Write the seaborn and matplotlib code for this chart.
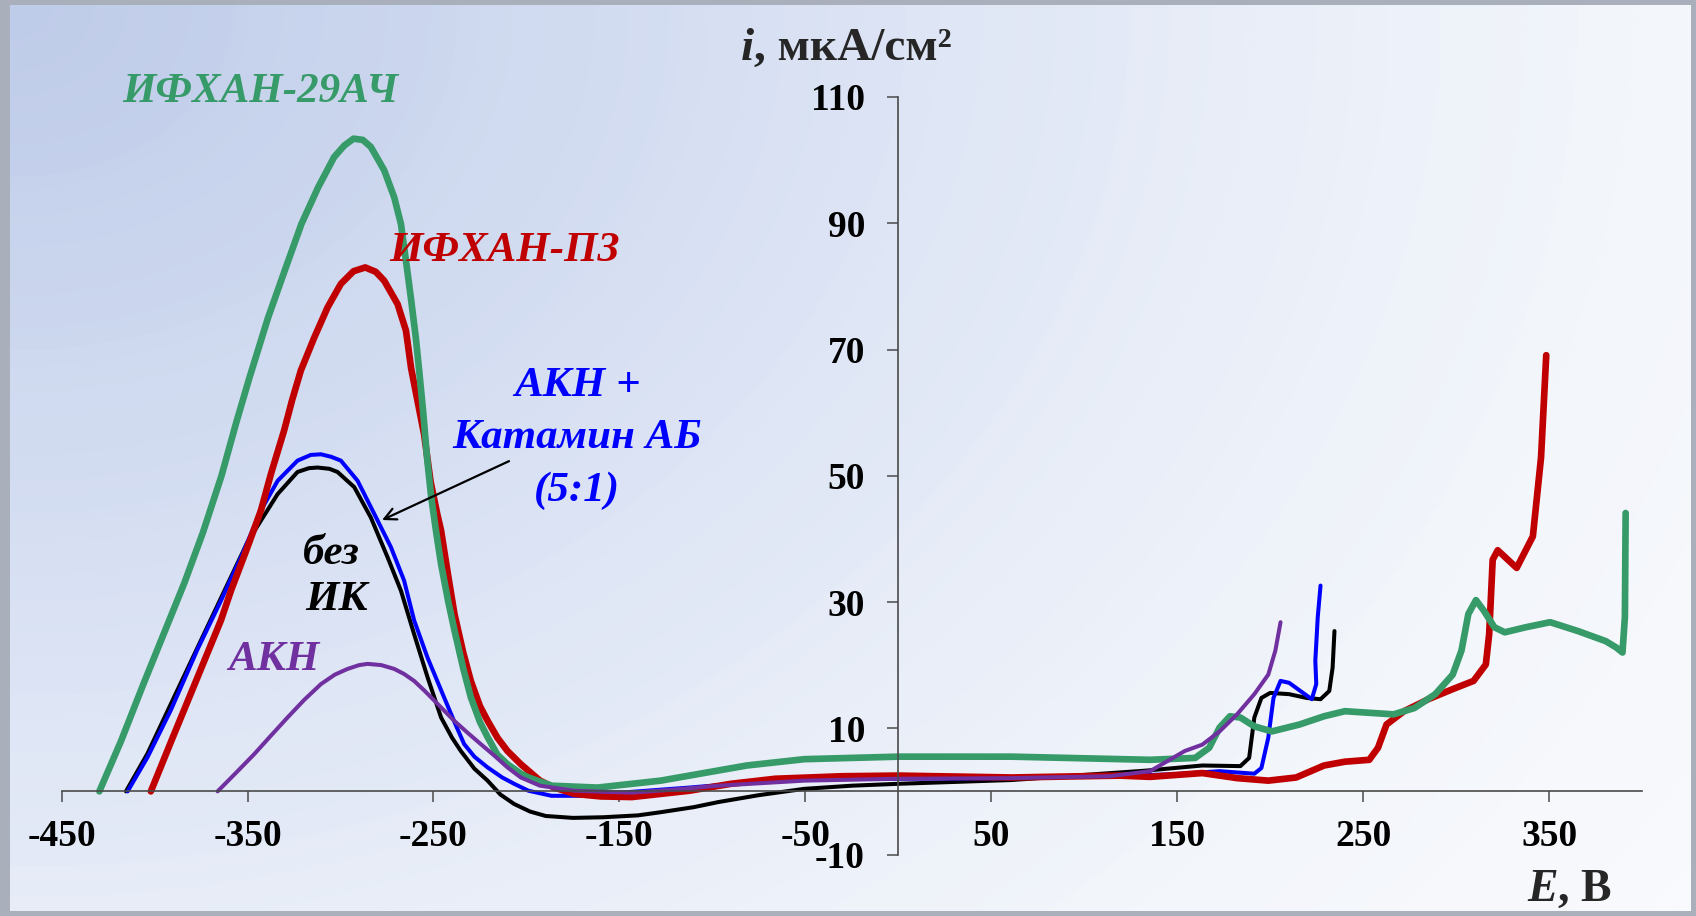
import numpy as np
import seaborn as sns
import matplotlib.pyplot as plt
from matplotlib.colors import LinearSegmentedColormap

# ======= кривые i(E) =======
E_ifhan29 = [-429.7, -418, -406, -395, -384, -374, -364, -356, -349, -339, -330, -321, -312,
             -303.4, -298, -293, -288, -283.7, -276.5, -271.1, -267.5, -264.8, -262.2, -259.5,
             -257.7, -255.5, -253.5, -251.2, -248.5, -245.9, -242, -238.7, -234, -229.9, -225,
             -220.9, -215.6, -210.2, -203, -198.9, -186.5, -161.8, -127.8, -81.5, -50.6, 0, 61,
             135.4, 159.7, 167.2, 172.8, 178.4, 184, 191.5, 200.9, 215.9, 229, 240.2, 266.4,
             277.6, 288.8, 298.2, 302.9, 306.6, 310.7, 315, 320.6, 326.2, 337.5, 350.6, 365.5,
             380.5, 386.1, 389.5, 390.8, 391.2]
i_ifhan29 = [0, 8, 17, 25, 33, 41, 50, 58.5, 65.5, 75, 82.5, 89.9, 95.7,
             100.5, 102.3, 103.4, 103.2, 102.1, 98.4, 94.1, 89.9, 84.1, 78.3, 71.9,
             66.7, 60, 53, 46.6, 41, 36, 30, 25.5, 19.5, 14.9, 11,
             8.6, 5.8, 4.3, 2.8, 2.2, 0.9, 0.6, 1.7, 4.1, 5.1, 5.5, 5.5,
             5.0, 5.3, 6.9, 10.1, 11.9, 11.7, 10.3, 9.5, 10.6, 11.9, 12.7, 12.2,
             13.2, 15.4, 18.5, 22.3, 28.1, 30.3, 28.6, 26.0, 25.2, 26.0, 26.8, 25.4,
             23.8, 22.8, 22.0, 27.6, 44.1]

E_ifhan_p3 = [-402, -390, -377, -364.3, -358.9, -350, -342.8, -337.4, -330.3, -326, -321.3,
              -314.1, -306.9, -299.8, -293, -286.7, -281, -276.5, -269.3, -264.8, -262, -258,
              -255, -251.5, -248, -245.9, -242, -238.7, -234, -229.9, -225, -220.9, -215.6,
              -210.2, -203, -192.7, -185, -174.2, -160, -143.3, -112.4, -90, -66.1, -30, 0, 61,
              119, 135.4, 163.5, 182.2, 199, 214, 229, 240.2, 253.3, 258, 262.6, 272, 285.1,
              298.2, 309.4, 316, 317.8, 319.7, 322.4, 332.6, 341.3, 345.7, 348.5]
i_ifhan_p3 = [0, 8.7, 18, 27.1, 31.8, 38.7, 44.5, 50.3, 57.2, 62, 66.7,
              71.9, 76.7, 80.4, 82.4, 83.0, 82.3, 80.9, 77.2, 73.0, 67, 61,
              56.5, 49, 44, 41.3, 34, 28.1, 22, 17.5, 13.5, 11.2, 8.5,
              6.4, 4.3, 1.7, 0.6, -0.4, -0.8, -0.9, 0.1, 1.2, 2, 2.4, 2.5, 2.2,
              2.5, 2.3, 2.9, 2.1, 1.7, 2.2, 4.1, 4.7, 5.0, 6.9, 10.6, 12.7, 14.6,
              16.2, 17.5, 20.1, 24.9, 36.7, 38.2, 35.4, 40.4, 52.9, 69.1]

E_akn_kat = [-414.5, -403.8, -391.2, -376.9, -364.3, -353.5, -342.8, -333.8, -323.1, -316,
             -310.5, -305, -299.8, -290.8, -281.9, -272.9, -265.8, -260.4, -253.2, -244.3,
             -238, -233.5, -228, -220.9, -213, -206.6, -198.9, -186.5, -170, -158.7, -140,
             -112.4, -80, -50.6, 0, 61, 148, 172.8, 191.5, 195.3, 199, 201.8, 205.6, 210.2,
             217.7, 222.4, 224.8, 224.3, 225.6, 227.1]
i_akn_kat = [0, 5.4, 12.9, 22.5, 30.2, 37.1, 44.5, 49.2, 52.4, 53.3,
             53.4, 53.0, 52.4, 49.2, 44, 38.7, 33.4, 27.1, 21.2, 14.9,
             10.5, 7.5, 5.5, 3.8, 2.2, 1.2, 0.1, -0.7, -0.7, -0.4, 0,
             0.6, 1.4, 2.0, 2.0, 2.1, 2.7, 3.2, 2.8, 3.7, 8.5, 14.8, 17.5, 17.2,
             15.6, 14.6, 17, 20.7, 27.6, 32.6]

E_bez_ik = [-415.4, -403.8, -389.4, -375.1, -360.8, -350, -342.8, -333.8, -323.1, -317,
            -312.3, -306, -301.6, -292.6, -283.7, -274.7, -267.5, -260.4, -253.2, -245.9,
            -240, -235.3, -228, -220.9, -214, -206.6, -198, -189.6, -175, -158.7, -140,
            -127.8, -110, -96.9, -75, -50.6, -25, 0, 61, 133.8, 163.5, 184, 188.7,
            191.5, 195.3, 200, 210.2, 219.6, 227.1, 231.8, 233.6, 234.6]
i_bez_ik = [0, 6, 15, 23.9, 32.8, 39.5, 42.9, 47.1, 50.6, 51.2,
            51.3, 51.1, 50.6, 48.2, 43.4, 37.1, 31.8, 24.9, 18.1, 11.7,
            8.5, 6.4, 3.6, 1.7, -0.5, -2.0, -3.2, -3.9, -4.2, -4.1, -3.8,
            -3.3, -2.5, -1.7, -0.6, 0.4, 0.9, 1.2, 1.8, 3.3, 4.1, 4.0, 5.3,
            11.7, 14.8, 15.6, 15.4, 14.8, 14.6, 15.9, 19.6, 25.4]

E_akn = [-366.1, -356, -346.4, -337.5, -328.5, -319.5, -310.5, -303, -296.2, -290, -285.4,
         -278, -271.1, -265.8, -260.4, -255, -249.6, -238.9, -231.7, -224.6, -217, -210.2,
         -203, -192.7, -174.2, -143.3, -120, -96.9, -50.6, 0, 61, 113.5, 135.4, 144.8,
         154.1, 163.5, 172.8, 182.2, 191.5, 199, 202.8, 205.6]
i_akn = [0, 3.0, 5.9, 8.8, 11.7, 14.5, 17.0, 18.5, 19.4, 20.0, 20.2,
         20.0, 19.4, 18.6, 17.5, 16.0, 14.4, 11.2, 9.3, 7.5, 5.6, 3.8,
         2.2, 0.9, 0.1, -0.2, 0.3, 0.9, 1.7, 2, 2.1, 2.4, 3.2, 4.8,
         6.4, 7.4, 9.5, 12.2, 15.4, 18.5, 22.3, 26.8]

x_ticks = [-450, -350, -250, -150, -50, 50, 150, 250, 350]
y_ticks = [-10, 10, 30, 50, 70, 90, 110]
# ==========================================

GREEN, RED, BLUE, PURPLE = '#379a69', '#c00000', '#0000ff', '#7030a0'
W, H = 1696, 916

sns.set_theme(style='white')
plt.rcParams['font.family'] = ['Liberation Serif', 'DejaVu Serif']
plt.rcParams['font.weight'] = 'bold'
plt.rcParams['axes.unicode_minus'] = False

fig = plt.figure(figsize=(W / 100, H / 100), dpi=100, facecolor='#a9b0bb')

# фон слайда: мягкий радиальный градиент
bg = fig.add_axes([10 / W, 5 / H, 1681 / W, 906 / H])
yy, xx = np.mgrid[0:1:400j, 0:1:700j]
d = np.hypot(xx, yy * 0.7) / 1.2
d = 0.75 * d + 0.25 * np.floor(d * 9) / 9
cmap = LinearSegmentedColormap.from_list(
    'bg', ['#bfcce9', '#cdd8ef', '#dbe3f4', '#e9eef8', '#f3f6fb', '#f9fafd'])
bg.imshow(d, cmap=cmap, aspect='auto', vmin=0, vmax=1, interpolation='bilinear')
bg.axis('off')

ax = fig.add_axes([61.6 / W, 1 - 854.5 / H, 1580.4 / W, 757.5 / H])
ax.set_facecolor('none')

series = [
    (E_bez_ik, i_bez_ik, 'black', 2.9),
    (E_akn_kat, i_akn_kat, BLUE, 2.9),
    (E_ifhan_p3, i_ifhan_p3, RED, 4.8),
    (E_ifhan29, i_ifhan29, GREEN, 4.8),
    (E_akn, i_akn, PURPLE, 2.9),
]
for xs, ys, c, lw in series:
    sns.lineplot(x=xs, y=ys, sort=False, estimator=None, color=c, linewidth=lw, ax=ax,
                 solid_capstyle='round', solid_joinstyle='round')

ax.set_xlim(-450, 400)
ax.set_ylim(-10, 110)
for s in ['top', 'right']:
    ax.spines[s].set_visible(False)
ax.spines['left'].set_position(('data', 0))
ax.spines['bottom'].set_position(('data', 0))
for s in ['left', 'bottom']:
    ax.spines[s].set_color('#4a4a4a')
    ax.spines[s].set_linewidth(1.2)

ax.set_xticks(x_ticks)
ax.set_xticklabels([str(v) for v in x_ticks])
ax.set_yticks(y_ticks)
ax.set_yticklabels([str(v) for v in y_ticks])
ax.tick_params(axis='x', bottom=True, direction='out', length=8, width=1.1,
               color='#4a4a4a', labelcolor='black', labelsize=27, pad=12)
ax.tick_params(axis='y', left=True, direction='out', length=8, width=1.1,
               color='#4a4a4a', labelcolor='black', labelsize=27, pad=16)
ax.set_xlabel('')
ax.set_ylabel('')

lab = dict(fontsize=31, weight='bold', style='italic', ha='center', va='center')
ax.text(-343, 110.8, 'ИФХАН-29АЧ', color=GREEN, **lab)
ax.text(-212, 85.6, 'ИФХАН-ПЗ', color=RED, **lab)
ax.text(-172.7, 64.2, 'АКН +', color=BLUE, **lab)
ax.text(-172.7, 56.0, 'Катамин АБ', color=BLUE, **lab)
ax.text(-172.7, 47.7, '(5:1)', color=BLUE, **lab)
ax.text(-305, 37.6, 'без', color='black', **lab)
ax.text(-302, 30.3, 'ИК', color='black', **lab)
ax.text(-336, 20.8, 'АКН', color=PURPLE, **lab)

ax.annotate('', xy=(-279, 42.8), xytext=(-208, 52.5),
            arrowprops=dict(arrowstyle='->,head_length=0.7,head_width=0.35',
                            color='black', lw=1.6))

# подписи осей: курсивная буква + прямой текст
r = fig.canvas.get_renderer()
t = fig.text(741 / W, 1 - 60 / H, 'i', fontsize=34, weight='bold', style='italic',
             va='baseline', ha='left')
bb = t.get_window_extent(renderer=r)
fig.text(bb.x1 / W, 1 - 60 / H, ', мкА/см²', fontsize=34, weight='bold',
         va='baseline', ha='left')
t = fig.text(1527 / W, 1 - 901 / H, 'E', fontsize=33, weight='bold', style='italic',
             va='baseline', ha='left')
bb = t.get_window_extent(renderer=r)
fig.text(bb.x1 / W, 1 - 901 / H, ', В', fontsize=33, weight='bold',
         va='baseline', ha='left')

fig.savefig('out.png', dpi=100, facecolor=fig.get_facecolor())
